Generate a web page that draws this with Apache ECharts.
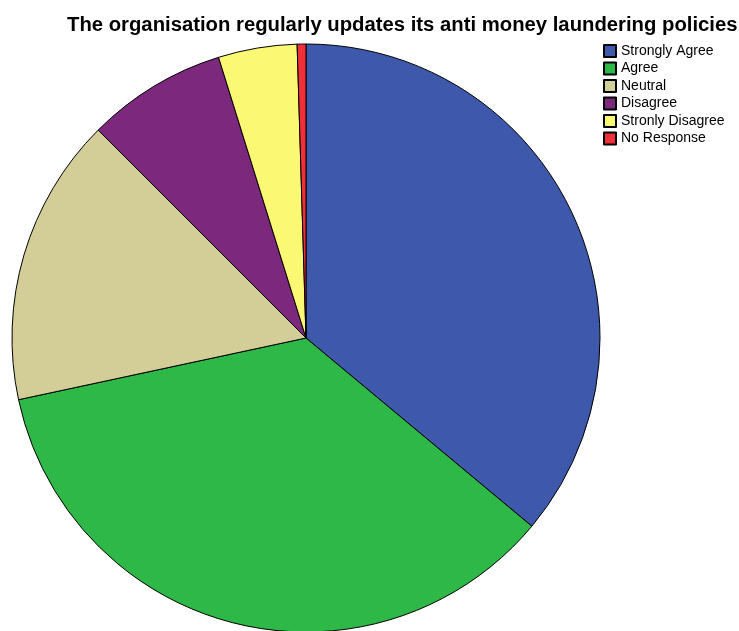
<!DOCTYPE html>
<html>
<head>
<meta charset="utf-8">
<style>
  html, body { margin: 0; padding: 0; background: #ffffff; }
  #chart { width: 739px; height: 631px; }
</style>
<script src="https://cdn.jsdelivr.net/npm/echarts@6/dist/echarts.min.js"></script>
</head>
<body>
<div id="chart"></div>
<script>
// Survey responses for the anti money laundering policy question
const categories = ['Strongly Agree', 'Agree', 'Neutral', 'Disagree', 'Stronly Disagree', 'No Response'];
const counts = [75, 74, 33, 16, 9, 1];
const colors = ['#3e58ac', '#2eb848', '#d3ce97', '#7b287d', '#fbf873', '#ef3038'];

const chart = echarts.init(document.getElementById('chart'));
chart.setOption({
  animation: false,
  title: {
    text: 'The organisation regularly updates its anti money laundering policies',
    left: 67,
    top: 15,
    padding: 0,
    textStyle: {
      fontFamily: 'Liberation Sans, Arial, sans-serif',
      fontSize: 20.3,
      fontWeight: 'bold',
      color: '#000000'
    }
  },
  legend: {
    orient: 'vertical',
    left: 603,
    top: 44,
    padding: 0,
    itemWidth: 12,
    itemHeight: 12,
    itemGap: 3.5,
    icon: 'rect',
    data: categories,
    textStyle: {
      fontFamily: 'Liberation Sans, Arial, sans-serif',
      fontSize: 14,
      color: '#000000'
    }
  },
  series: [{
    type: 'pie',
    center: [306, 338],
    radius: 294,
    startAngle: 90,
    clockwise: true,
    label: { show: false },
    labelLine: { show: false },
    emphasis: { disabled: true },
    itemStyle: { borderColor: '#000000', borderWidth: 1 },
    data: categories.map((name, i) => ({
      name,
      value: counts[i],
      itemStyle: { color: colors[i] }
    }))
  }]
});
</script>
</body>
</html>
